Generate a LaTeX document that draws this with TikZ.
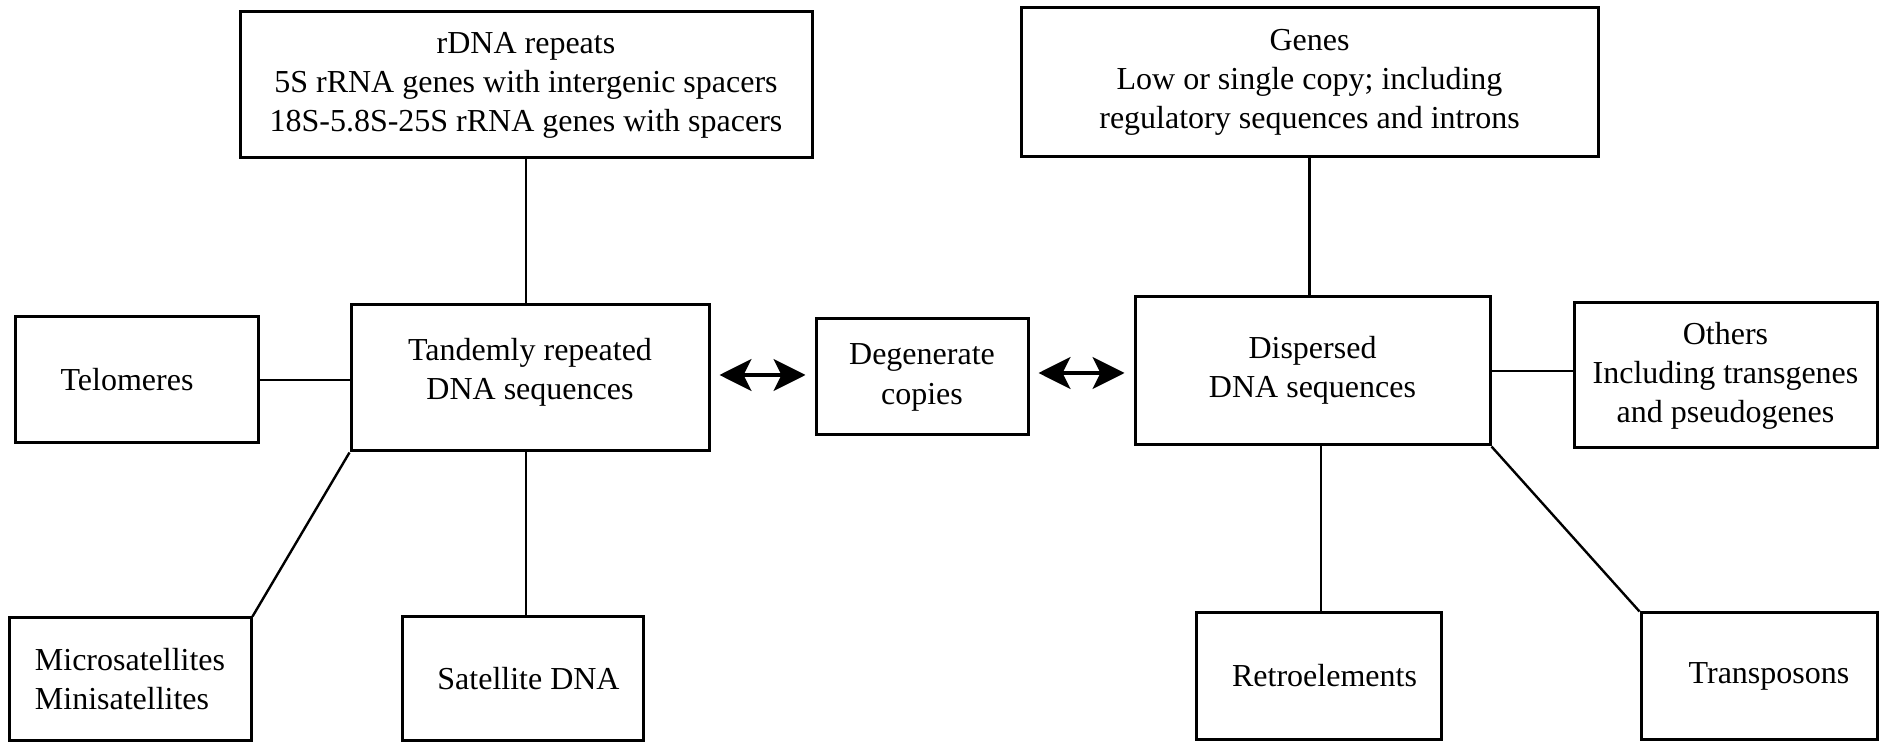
\documentclass[tikz,border=0pt]{standalone}
\usepackage{fontspec}
\setmainfont{Liberation Serif}
\usetikzlibrary{arrows.meta}
\begin{document}
\begin{tikzpicture}[x=0.5pt,y=-0.5pt,
 box/.style={draw, line width=1.5pt, inner sep=0pt, align=center, font=\fontsize{16}{19.5}\selectfont},
 link/.style={line width=1.2pt},
 dar/.style={line width=1.6pt, {Stealth[length=16pt,width=16pt,inset=4pt]}-{Stealth[length=16pt,width=16pt,inset=4pt]}, shorten <=4.5pt, shorten >=4.5pt}]
\useasboundingbox (0,0) rectangle (1879,742);
% top boxes
\node[box, minimum width=286pt, minimum height=73pt] (rdna) at (526,85) {rDNA repeats\\5S rRNA genes with intergenic spacers\\18S-5.8S-25S rRNA genes with spacers};
\node[box, minimum width=288.5pt, minimum height=74.5pt] (genes) at (1309.5,82.5) {Genes\\Low or single copy; including\\regulatory sequences and introns};
% middle row
\node[box, minimum width=121.5pt, minimum height=63pt] (tel) at (137,380) {Telomeres\hspace{10pt}};
\node[box, minimum width=179pt, minimum height=73pt] (tand) at (530,378) {Tandemly repeated\\DNA sequences\\[-10.5pt]\mbox{}};
\node[box, minimum width=106pt, minimum height=58pt] (deg) at (922,377) {Degenerate\\[0.5pt]copies};
\node[box, minimum width=177.5pt, minimum height=74pt] (disp) at (1312.5,371) {Dispersed\\DNA sequences\\[-15.5pt]\mbox{}};
\node[box, minimum width=151.5pt, minimum height=72.5pt] (oth) at (1725.5,375.5) {Others\\Including transgenes\\and pseudogenes};
% bottom row
\node[box, align=left, minimum width=121pt, minimum height=61pt] (micro) at (130,679) {Microsatellites\\Minisatellites};
\node[box, minimum width=120.5pt, minimum height=61.5pt] (sat) at (522.5,678.5) {\hspace{6pt}Satellite DNA};
\node[box, minimum width=122.5pt, minimum height=63pt] (retro) at (1318.5,676) {\hspace{6pt}Retroelements};
\node[box, minimum width=118pt, minimum height=63pt] (trans) at (1759,676) {\hspace{10pt}Transposons};
% connectors
\coordinate (c1) at (526,0);
\coordinate (c2) at (1321,0);
\coordinate (ly) at (0,375);
\coordinate (ry) at (0,373);
\draw[link] (rdna.south) -- (rdna.south |- tand.north);
\draw[link] (genes.south) -- (genes.south |- disp.north);
\draw[link] (tel.east) -- (tel.east -| tand.west);
\draw[link] (c1 |- tand.south) -- (c1 |- sat.north);
\draw[link] (tand.south west) -- (micro.north east);
\draw[link] (c2 |- disp.south) -- (c2 |- retro.north);
\draw[link] (disp.south east) -- (trans.north west);
\draw[link] (disp.east) -- (disp.east -| oth.west);
\draw[dar] (tand.east |- ly) -- (deg.west |- ly);
\draw[dar] (deg.east |- ry) -- (disp.west |- ry);
\end{tikzpicture}
\end{document}
